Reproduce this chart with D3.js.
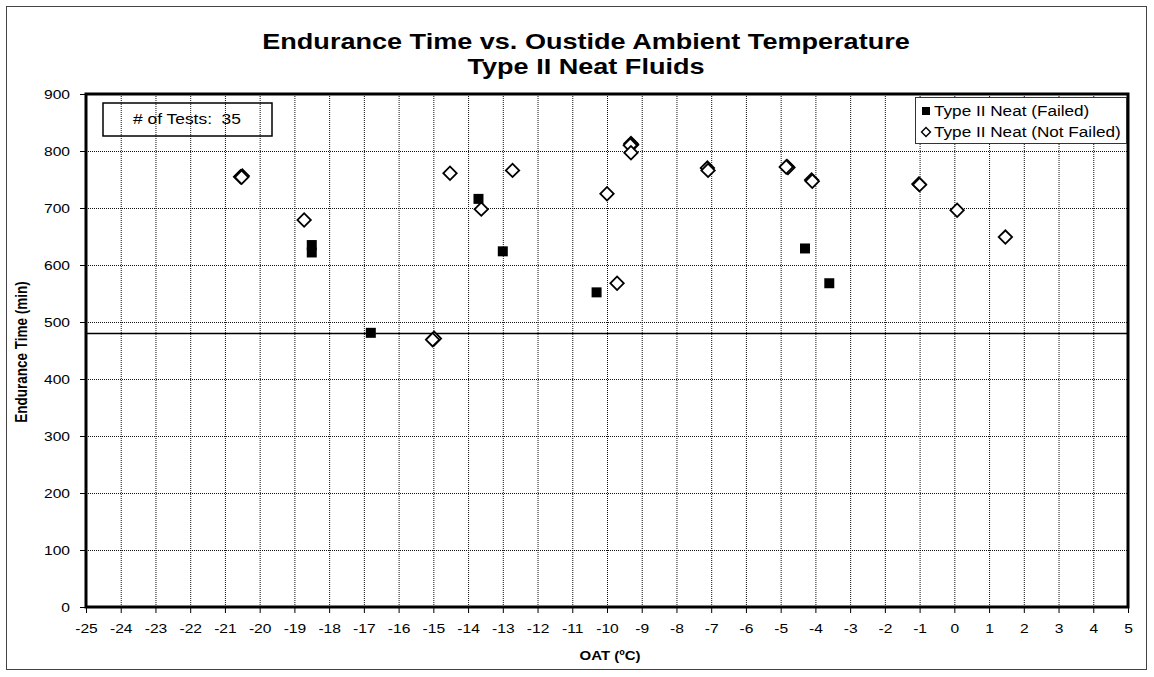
<!DOCTYPE html>
<html>
<head>
<meta charset="utf-8">
<script src="https://cdn.jsdelivr.net/npm/d3@7"></script>
<style>
  body { margin: 0; background: #fff; }
  text { font-family: "Liberation Sans", Arial, sans-serif; fill: #000; }
</style>
</head>
<body>
<svg width="1154" height="677"></svg>
<script>
// ---- data ----
var titleLines = ["Endurance Time vs. Oustide Ambient Temperature", "Type II Neat Fluids"];
var xTicks = d3.range(-25, 6, 1);
var yTicks = [0, 100, 200, 300, 400, 500, 600, 700, 800, 900];
var limitLine = 480;
var testCount = 35;

// failed tests: [OAT, endurance]
var failedX = [-18.5, -18.5, -16.8, -13.7, -13.0, -10.3, -4.3, -3.6];
var failedY = [635, 622, 481, 716, 624, 552, 629, 568];

// not failed tests
var notFailedX = [-20.55, -20.5, -20.52, -18.72, -15.0, -14.97, -15.02, -14.52, -13.62, -12.72,
                  -10.0, -9.71, -9.31, -9.29, -9.33, -9.31, -7.11, -7.09, -4.82, -4.79, -4.84,
                  -4.11, -4.09, -1.02, -1.0, 0.08, 1.47];
var notFailedY = [755, 756, 754, 679, 470, 471, 469, 761, 698, 766,
                  725, 568, 813, 811, 810, 797, 770, 766, 773, 771, 772,
                  749, 747, 742, 741, 696, 649];

var svg = d3.select("svg");
var sx = 1.2; // the original chart's lettering is stretched sideways

var margin = {left: 86, right: 1128, top: 94, bottom: 607};

var x = d3.scaleLinear().domain([-25, 5]).range([margin.left, margin.right]);
var y = d3.scaleLinear().domain([0, 900]).range([margin.bottom, margin.top]);

// outer frame
svg.append("rect")
  .attr("x", 6.5).attr("y", 6.5)
  .attr("width", 1140).attr("height", 663)
  .attr("fill", "#fff")
  .attr("stroke", "#444")
  .attr("stroke-width", 1);

// title
svg.selectAll("text.title")
  .data(titleLines)
  .enter()
  .append("text")
  .attr("class", "title")
  .attr("text-anchor", "middle")
  .attr("transform", function(d, i) { return "translate(586," + (49 + i * 25) + ") scale(1.23,1)"; })
  .style("font-size", "22px")
  .style("font-weight", "bold")
  .text(function(d) { return d; });

// grid
var grid = svg.append("g").attr("class", "grid");
grid.selectAll("line.vg")
  .data(xTicks.slice(1, -1))
  .enter()
  .append("line")
  .attr("x1", function(d) { return x(d) + 0.5; })
  .attr("x2", function(d) { return x(d) + 0.5; })
  .attr("y1", margin.top)
  .attr("y2", margin.bottom)
  .attr("stroke", "#111")
  .attr("stroke-width", 1)
  .attr("stroke-dasharray", "1,1");

grid.selectAll("line.hg")
  .data(yTicks.slice(1, -1))
  .enter()
  .append("line")
  .attr("x1", margin.left)
  .attr("x2", margin.right)
  .attr("y1", function(d) { return y(d) + 0.5; })
  .attr("y2", function(d) { return y(d) + 0.5; })
  .attr("stroke", "#111")
  .attr("stroke-width", 1)
  .attr("stroke-dasharray", "1,1");

// 480 min line
svg.append("line")
  .attr("x1", margin.left).attr("x2", margin.right)
  .attr("y1", y(limitLine)).attr("y2", y(limitLine))
  .attr("stroke", "#000")
  .attr("stroke-width", 1.5);

// axes
var gY = svg.append("g")
  .attr("transform", "translate(" + margin.left + ",0)")
  .call(d3.axisLeft(y).tickValues(yTicks).tickSize(6).tickPadding(16).tickFormat(d3.format("d")));
gY.select(".domain").remove();
gY.selectAll(".tick line").attr("stroke", "#000");
gY.selectAll(".tick text")
  .attr("x", -16 / sx)
  .attr("transform", "scale(" + sx + ",1)")
  .style("font-size", "13px")
  .style("font-family", "Liberation Sans, Arial, sans-serif");

var gX = svg.append("g")
  .attr("transform", "translate(0," + margin.bottom + ")")
  .call(d3.axisBottom(x).tickValues(xTicks).tickSize(6).tickPadding(11).tickFormat(d3.format("d")));
gX.select(".domain").remove();
gX.selectAll(".tick line").attr("stroke", "#000");
gX.selectAll(".tick text")
  .attr("transform", "scale(" + sx + ",1)")
  .style("font-size", "13px")
  .style("font-family", "Liberation Sans, Arial, sans-serif")
  .text(function(d) { return d < 0 ? "-" + Math.abs(d) : d; });

// plot border
svg.append("rect")
  .attr("x", margin.left).attr("y", margin.top)
  .attr("width", margin.right - margin.left)
  .attr("height", margin.bottom - margin.top)
  .attr("fill", "none")
  .attr("stroke", "#000")
  .attr("stroke-width", 3);

// axis titles
svg.append("text")
  .attr("text-anchor", "middle")
  .attr("transform", "translate(610,660) scale(" + sx + ",1)")
  .style("font-size", "12.5px")
  .style("font-weight", "bold")
  .text("OAT (ºC)");

svg.append("text")
  .attr("text-anchor", "middle")
  .attr("transform", "translate(27,352) scale(" + sx + ",1) rotate(-90)")
  .style("font-size", "13.5px")
  .style("font-weight", "bold")
  .text("Endurance Time (min)");

// markers
var diamond = d3.symbol().type(d3.symbolSquare).size(90);
var square = d3.symbol().type(d3.symbolSquare).size(100);

svg.append("g").selectAll("path.nf")
  .data(d3.range(notFailedX.length))
  .enter()
  .append("path")
  .attr("class", "nf")
  .attr("d", diamond)
  .attr("transform", function(i) { return "translate(" + x(notFailedX[i]) + "," + y(notFailedY[i]) + ") rotate(45)"; })
  .attr("fill", "#fff")
  .attr("stroke", "#000")
  .attr("stroke-width", 1.8);

svg.append("g").selectAll("path.f")
  .data(d3.range(failedX.length))
  .enter()
  .append("path")
  .attr("class", "f")
  .attr("d", square)
  .attr("transform", function(i) { return "translate(" + x(failedX[i]) + "," + y(failedY[i]) + ")"; })
  .attr("fill", "#000");

// test count box
svg.append("rect")
  .attr("x", 103).attr("y", 103)
  .attr("width", 169).attr("height", 33)
  .attr("fill", "none")
  .attr("stroke", "#000")
  .attr("stroke-width", 1.5);
svg.append("text")
  .attr("text-anchor", "middle")
  .attr("transform", "translate(187,124) scale(" + sx + ",1)")
  .style("font-size", "14.5px")
  .style("white-space", "pre")
  .attr("xml:space", "preserve")
  .text("# of Tests:  " + testCount);

// legend
var legend = svg.append("g");
legend.append("rect")
  .attr("x", 915.5).attr("y", 97.5)
  .attr("width", 211).attr("height", 46)
  .attr("fill", "#fff")
  .attr("stroke", "#333")
  .attr("stroke-width", 1);
var legendItems = ["Type II Neat (Failed)", "Type II Neat (Not Failed)"];
legend.selectAll("text.leg")
  .data(legendItems)
  .enter()
  .append("text")
  .attr("class", "leg")
  .attr("transform", function(d, i) { return "translate(934," + (116 + i * 21) + ") scale(" + sx + ",1)"; })
  .style("font-size", "14.3px")
  .text(function(d) { return d; });
legend.append("path")
  .attr("d", d3.symbol().type(d3.symbolSquare).size(64))
  .attr("transform", "translate(926,111)")
  .attr("fill", "#000");
legend.append("path")
  .attr("d", d3.symbol().type(d3.symbolSquare).size(40))
  .attr("transform", "translate(926,132) rotate(45)")
  .attr("fill", "#fff")
  .attr("stroke", "#000")
  .attr("stroke-width", 1.4);
</script>
</body>
</html>
